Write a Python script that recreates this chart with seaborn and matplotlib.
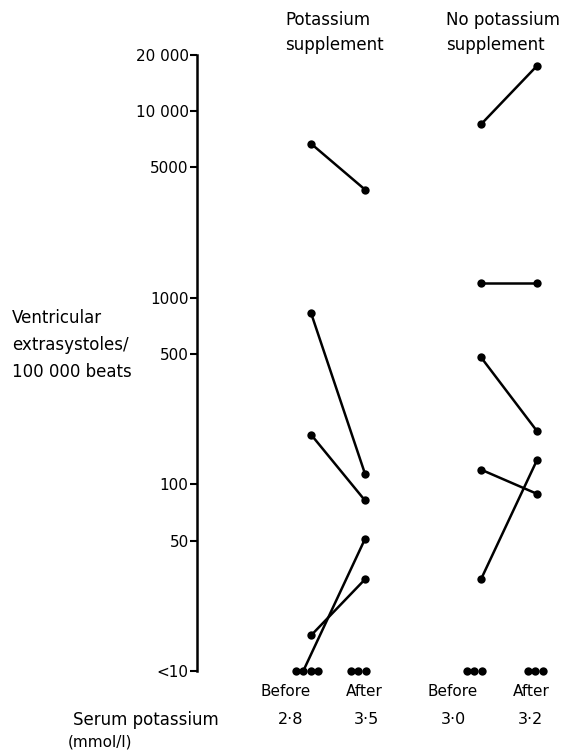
import numpy as np
import pandas as pd
import matplotlib
matplotlib.use("Agg")
import matplotlib.pyplot as plt
import seaborn as sns

# ---------------- data (10 means "<10") ----------------
groups = ["Potassium supplement", "No potassium supplement"]
phases = ["Before", "After"]
k_before = [6700, 830, 185, 15.5, 10, 10, 10, 10]
k_after = [3800, 114, 82, 31, 10, 51, 10, 10]
nok_before = [8500, 1200, 480, 120, 31, 10, 10, 10]
nok_after = [17500, 1200, 193, 89, 135, 10, 10, 10]
serum_k = ["2·8", "3·5", "3·0", "3·2"]
ytick_values = [10, 50, 100, 500, 1000, 5000, 10000, 20000]
ytick_labels = ["<10", "50", "100", "500", "1000", "5000", "10 000", "20 000"]

# ---------------- layout ----------------
W, H = 575, 755
col_x = {("K", "Before"): 311, ("K", "After"): 365,
         ("NoK", "Before"): 481, ("NoK", "After"): 537}
floor_center = {("K", "Before"): 307, ("K", "After"): 358,
                ("NoK", "Before"): 474, ("NoK", "After"): 535}
floor_step = 7.5
ax_left_px, ax_top_px, ax_bottom_px = 197, 55, 671

rows = []
for gkey, before, after in [("K", k_before, k_after), ("NoK", nok_before, nok_after)]:
    for ph, vals in [("Before", before), ("After", after)]:
        floor_idx = [i for i, v in enumerate(vals) if v <= 10]
        n = len(floor_idx)
        for i, v in enumerate(vals):
            if v <= 10:
                j = floor_idx.index(i)
                x = floor_center[(gkey, ph)] + (j - (n - 1) / 2) * floor_step
            else:
                x = col_x[(gkey, ph)]
            rows.append(dict(group=gkey, phase=ph, patient=f"{gkey}{i}",
                             value=v, x=x - ax_left_px))
df = pd.DataFrame(rows)

# patients whose values are both <10 are not joined
both_floor = df.groupby("patient")["value"].transform(lambda s: (s <= 10).all())
lines_df = df[~both_floor]

sns.set_theme(style="white")
plt.rcParams["font.family"] = ["DejaVu Sans"]

fig = plt.figure(figsize=(W / 100, H / 100), dpi=100)
ax = fig.add_axes([ax_left_px / W, 1 - ax_bottom_px / H, 1 - ax_left_px / W,
                   (ax_bottom_px - ax_top_px) / H])

sns.lineplot(data=lines_df, x="x", y="value", units="patient", estimator=None,
             color="black", lw=1.8, ax=ax, sort=False, legend=False)
sns.scatterplot(data=df, x="x", y="value", color="black", s=36, edgecolor="black",
                linewidth=0, ax=ax, legend=False, clip_on=False, zorder=5)
for c in ax.collections:
    c.set_clip_on(False)
for l in ax.lines:
    l.set_clip_on(False)

ax.set_yscale("log")
ax.set_ylim(10, 20000)
ax.set_xlim(0, W - ax_left_px)
ax.set_yticks(ytick_values)
ax.set_yticklabels(ytick_labels)
ax.yaxis.set_minor_locator(matplotlib.ticker.NullLocator())
ax.tick_params(axis="y", which="major", direction="out", length=5, width=1.5,
               labelsize=11, pad=1, colors="black", left=True)
ax.set_xticks([])
ax.set_xlabel("")
ax.set_ylabel("")
for s in ["top", "right", "bottom"]:
    ax.spines[s].set_visible(False)
ax.spines["left"].set_linewidth(1.8)
ax.spines["left"].set_color("black")
ax.patch.set_alpha(0)


def ftext(x, y, s, ha="left", va="center", size=12):
    fig.text(x / W, 1 - y / H, s, ha=ha, va=va, fontsize=size, color="black")


# y label
ftext(12, 318, "Ventricular")
ftext(12, 345, "extrasystoles/")
ftext(12, 372, "100 000 beats")

# headers
ftext(285, 20, "Potassium")
ftext(285, 45, "supplement")
ftext(446, 20, "No potassium")
ftext(446, 45, "supplement")

# bottom labels
for (x, lab) in zip([286, 364, 453, 531], phases * 2):
    ftext(x, 692, lab, ha="center", size=11)
ftext(73, 720, "Serum potassium")
for x, lab in zip([291, 366, 453, 530], serum_k):
    ftext(x, 720, lab, ha="center", size=11.5)
ftext(68, 742, "(mmol/l)", size=11)

fig.savefig("out.png", dpi=100, facecolor="white")
